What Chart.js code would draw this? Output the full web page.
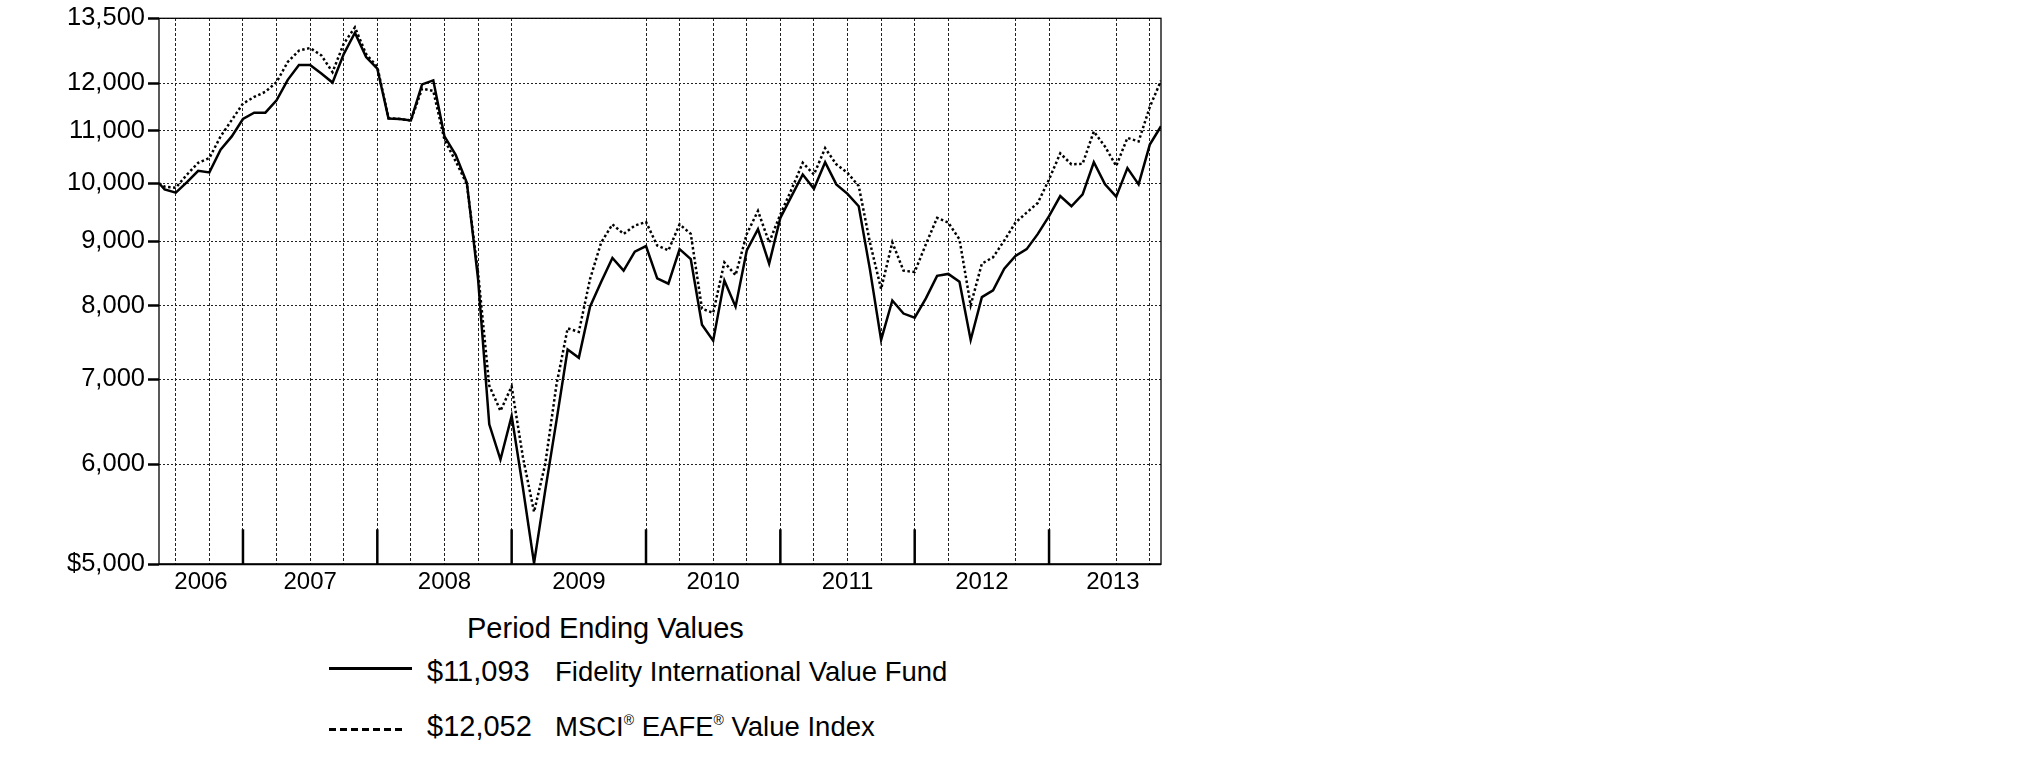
<!DOCTYPE html>
<html>
<head>
<meta charset="utf-8">
<script src="https://cdn.jsdelivr.net/npm/chart.js@4.4.0/dist/chart.umd.min.js"></script>
<style>
  body { margin: 0; background: #fff; width: 2025px; height: 773px; overflow: hidden; }
  #wrap { position: absolute; left: 0; top: 0; width: 1175px; height: 610px; }
  .txt { position: absolute; font-family: 'Liberation Sans', Arial, Helvetica, sans-serif; color: #000; line-height: 1; white-space: nowrap; }
  .title { font-size: 29px; left: 467px; top: 614px; }
  .val { font-size: 29px; left: 427px; }
  .name { font-size: 27.5px; left: 555px; }
  .name sup { font-size: 14px; vertical-align: 11px; }
  .swatch { position: absolute; left: 329px; height: 3px; }
</style>
</head>
<body>
<div id="wrap"><canvas id="chart" width="1175" height="610"></canvas></div>

<div class="txt title">Period Ending Values</div>

<div class="swatch" style="top:667px; width:83px; background:#000;"></div>
<div class="txt val" style="top:657px;">$11,093</div>
<div class="txt name" style="top:658px;">Fidelity International Value Fund</div>

<div class="swatch" style="top:728px; width:77px; background:repeating-linear-gradient(to right, #000 0 7px, transparent 7px 11px);"></div>
<div class="txt val" style="top:712px;">$12,052</div>
<div class="txt name" style="top:713px;">MSCI<sup>®</sup> EAFE<sup>®</sup> Value Index</div>

<script>
// month-end values, first point is the fund's start (May 2006) then May 2006 .. Oct 2013
const fundValues = [
  10000, 9890, 9830, 10020, 10230, 10200, 10630, 10890, 11240,
  11370, 11370, 11630, 12070, 12400, 12400, 12210, 12010, 12650, 13150, 12580, 12320,
  11250, 11240, 11210, 11970, 12060, 10890, 10530, 10010, 8400, 6450, 6050, 6550,
  5750, 5010, 5720, 6490, 7390, 7280, 7990, 8360, 8730, 8530, 8830, 8920,
  8410, 8330, 8870, 8710, 7730, 7510, 8380, 7990, 8850, 9200, 8640, 9390,
  9770, 10160, 9900, 10390, 9980, 9810, 9590, 8550, 7520, 8080, 7890, 7830,
  8110, 8450, 8480, 8360, 7520, 8130, 8230, 8560, 8760, 8870, 9120, 9420,
  9770, 9590, 9800, 10390, 9980, 9760, 10280, 9980, 10730, 11093
];
const indexValues = [
  10000, 9940, 9920, 10160, 10380, 10470, 10890, 11220, 11560,
  11700, 11810, 12020, 12470, 12730, 12790, 12620, 12240, 12890, 13280, 12650, 12360,
  11260, 11240, 11210, 11880, 11830, 10820, 10410, 9980, 8500, 6920, 6610, 6910,
  6080, 5500, 6000, 6930, 7680, 7630, 8400, 8980, 9280, 9120, 9260, 9320,
  8930, 8850, 9280, 9120, 7960, 7900, 8660, 8460, 9120, 9510, 8980, 9450,
  9890, 10380, 10160, 10660, 10350, 10190, 9950, 8980, 8250, 8980, 8530, 8510,
  8950, 9390, 9310, 9030, 8010, 8640, 8740, 9010, 9310, 9480, 9650, 10070,
  10560, 10350, 10360, 10990, 10690, 10320, 10860, 10790, 11490, 12052
];
// months counted from Dec 2005 (5 = May 2006); start date sits mid-May
const monthIndex = fundValues.map((v, i) => (i === 0 ? 4.5 : i + 4));

const years = ['2006', '2007', '2008', '2009', '2010', '2011', '2012', '2013'];
const yearLabelAt = [8.25, 18, 30, 42, 54, 66, 78, 89.7];
const yearEnds = [12, 24, 36, 48, 60, 72, 84];
const gridMonths = [6, 9, 12, 15, 18, 21, 24, 27, 30, 33, 36, 48, 51, 54, 57, 60, 63, 66, 69, 72, 75, 81, 84, 90, 93];
const yTicks = [5000, 6000, 7000, 8000, 9000, 10000, 11000, 12000, 13500];

const FONT = "'Liberation Sans', Arial, Helvetica, sans-serif";

const frame = {
  id: 'frame',
  afterDatasetsDraw(chart) {
    const { ctx, chartArea: a, scales: { x } } = chart;
    ctx.save();
    ctx.strokeStyle = '#000';
    ctx.lineWidth = 1.3;
    ctx.strokeRect(a.left, a.top, a.right - a.left, a.bottom - a.top);
    ctx.lineWidth = 2;
    ctx.beginPath();
    ctx.moveTo(a.left, a.bottom);
    ctx.lineTo(a.right, a.bottom);
    ctx.stroke();
    ctx.lineWidth = 2.5;
    yearEnds.forEach(m => {
      const px = x.getPixelForValue(m);
      ctx.beginPath();
      ctx.moveTo(px, a.bottom);
      ctx.lineTo(px, a.bottom - 35);
      ctx.stroke();
    });
    ctx.restore();
  }
};

new Chart(document.getElementById('chart'), {
  type: 'line',
  data: {
    datasets: [
      {
        label: 'Fidelity International Value Fund',
        data: fundValues.map((v, i) => ({ x: monthIndex[i], y: v })),
        borderColor: '#000',
        borderWidth: 2.5,
        pointRadius: 0,
        tension: 0
      },
      {
        label: 'MSCI EAFE Value Index',
        data: indexValues.map((v, i) => ({ x: monthIndex[i], y: v })),
        borderColor: '#000',
        borderWidth: 2.5,
        borderDash: [2.5, 2.5],
        pointRadius: 0,
        tension: 0
      }
    ]
  },
  options: {
    responsive: false,
    animation: false,
    layout: { padding: { top: 14, right: 14, left: 0, bottom: 0 } },
    plugins: { legend: { display: false }, tooltip: { enabled: false } },
    scales: {
      x: {
        type: 'linear',
        min: 4.5,
        max: 94,
        afterBuildTicks: s => { s.ticks = yearLabelAt.map(v => ({ value: v })); },
        afterFit: s => { s.height = 45.7; },
        ticks: {
          autoSkip: false,
          maxRotation: 0,
          padding: 4,
          color: '#000',
          font: { family: FONT, size: 24 },
          callback: (v, i) => years[i]
        },
        grid: { display: false, drawTicks: false },
        border: { display: false }
      },
      xq: {
        type: 'linear',
        position: 'top',
        min: 4.5,
        max: 94,
        afterBuildTicks: s => { s.ticks = gridMonths.map(v => ({ value: v })); },
        afterFit: s => { s.height = 0; },
        ticks: { display: false },
        grid: { color: '#222', lineWidth: 1, drawTicks: false },
        border: { display: false, dash: [3, 2] }
      },
      y: {
        type: 'logarithmic',
        min: 5000,
        max: 13500,
        afterBuildTicks: s => { s.ticks = yTicks.map(v => ({ value: v })); },
        afterFit: s => { s.width = 159; },
        ticks: {
          padding: 3,
          color: '#000',
          font: { family: FONT, size: 25.5 },
          callback: v => (v === 5000 ? '$5,000' : v.toLocaleString('en-US'))
        },
        grid: {
          color: '#222',
          lineWidth: 1,
          tickLength: 11,
          tickWidth: 2.5,
          tickColor: '#000',
          tickBorderDash: []
        },
        border: { display: false, dash: [2, 2] }
      }
    }
  },
  plugins: [frame]
});
</script>
</body>
</html>
